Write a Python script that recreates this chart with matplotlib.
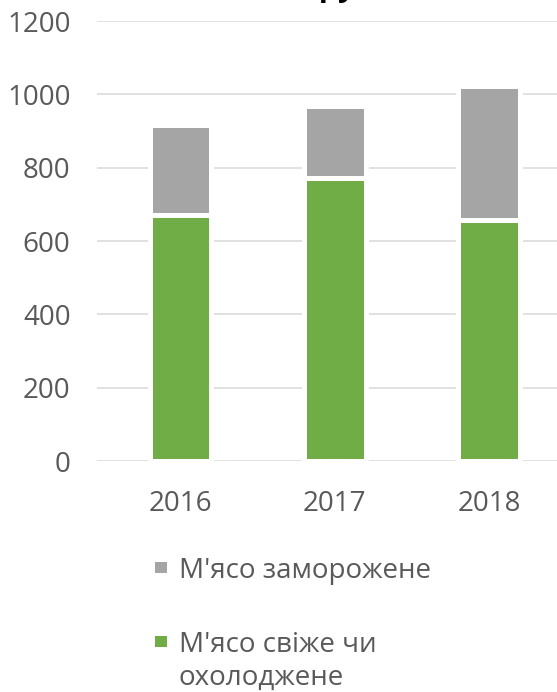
import matplotlib
matplotlib.use("Agg")
import matplotlib.pyplot as plt
import numpy as np

plt.rcParams['font.family'] = ['Open Sans', 'DejaVu Sans']

years = ['2016', '2017', '2018']
fresh = [670, 773, 657]     # М'ясо свіже чи охолоджене
frozen = [246, 195, 365]    # М'ясо заморожене
yticks = [0, 200, 400, 600, 800, 1000, 1200]

W, H = 557, 692
fig = plt.figure(figsize=(W / 100, H / 100), dpi=100)
ax = fig.add_axes([97 / W, 1 - 461 / H, (557 - 97) / W, (461 - 21) / H])

x = np.arange(len(years))
b1 = ax.bar(x, fresh, width=0.40, color='#70AD47', edgecolor='white', linewidth=3.6, zorder=3)
b2 = ax.bar(x, frozen, bottom=fresh, width=0.40, color='#A5A5A5', edgecolor='white', linewidth=3.6, zorder=3)

ax.set_xlim(-0.541, 2.440)
ax.set_ylim(0, 1200)
ax.set_yticks(yticks)
ax.set_xticks(x)
ax.set_xticklabels(years)
ax.yaxis.grid(True, color='#D9D9D9', linewidth=1.1, zorder=0)
ax.set_axisbelow(True)
for s in ax.spines.values():
    s.set_visible(False)
ax.tick_params(axis='both', length=0, labelsize=20, labelcolor='#595959')
ax.tick_params(axis='y', pad=19)
ax.tick_params(axis='x', pad=21)

# title, mostly cut off by the top of the picture
fig.text(300 / W, 1 + 4 / H, 'товару', fontsize=22, fontweight='bold', ha='center', va='baseline', color='black')

leg = fig.legend([b2, b1], ["М'ясо заморожене", "М'ясо свіже чи"],
                 loc='upper left', bbox_to_anchor=(155 / W, 1 - 557 / H),
                 frameon=False, fontsize=20, labelcolor='#595959',
                 handlelength=0.43, handleheight=0.232, handletextpad=0.42,
                 labelspacing=1.64, borderpad=0, borderaxespad=0)
for h in leg.legend_handles:
    h.set_linewidth(0)

# second line of the wrapped legend label
fig.canvas.draw()
tb = leg.get_texts()[1].get_window_extent()
fig.text(tb.x0 / W, 1 - 685 / H, 'охолоджене', fontsize=20, color='#595959', ha='left', va='baseline')

fig.savefig('out.png', dpi=100)
